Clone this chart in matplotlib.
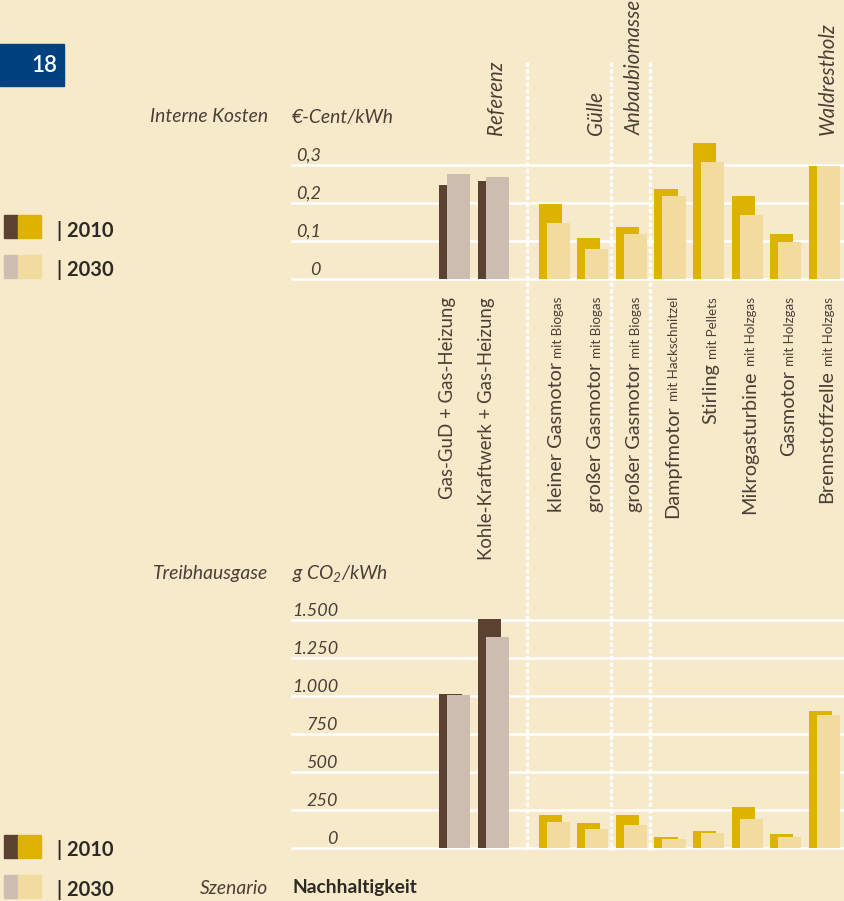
import numpy as np
import matplotlib
matplotlib.use('Agg')
import matplotlib.pyplot as plt
from matplotlib.patches import Rectangle
from matplotlib.lines import Line2D
from matplotlib.transforms import blended_transform_factory

# --- data ---
main_labels = ['Gas-GuD + Gas-Heizung', 'Kohle-Kraftwerk + Gas-Heizung',
               'kleiner Gasmotor', 'großer Gasmotor', 'großer Gasmotor',
               'Dampfmotor', 'Stirling', 'Mikrogasturbine', 'Gasmotor',
               'Brennstoffzelle']
small_labels = ['', '', 'mit Biogas', 'mit Biogas', 'mit Biogas',
                'mit Hackschnitzel', 'mit Pellets', 'mit Holzgas',
                'mit Holzgas', 'mit Holzgas']
groups = ['Referenz', 'Gülle', 'Anbaubiomasse', 'Waldrestholz']
group_last = [1, 3, 4, 9]          # group label sits over last bar of group
is_ref = [True, True, False, False, False, False, False, False, False, False]

kosten_2010 = [0.248, 0.259, 0.198, 0.109, 0.138, 0.238, 0.359, 0.219, 0.119, 0.298]
kosten_2030 = [0.277, 0.269, 0.148, 0.080, 0.119, 0.219, 0.309, 0.169, 0.098, 0.298]
co2_2010 = [1013, 1507, 217, 164, 217, 72, 112, 270, 92, 901]
co2_2030 = [1007, 1388, 171, 125, 151, 59, 99, 191, 72, 875]

kosten_ticks = [0, 0.1, 0.2, 0.3]
kosten_ticklabels = ['0', '0,1', '0,2', '0,3']
co2_ticks = [0, 250, 500, 750, 1000, 1250, 1500]
co2_ticklabels = ['0', '250', '500', '750', '1.000', '1.250', '1.500']

# --- style ---
BG = '#F7EACB'
DARK = '#5B4230'
TAUPE = '#CCBDB0'
GOLD = '#DEB300'
LGOLD = '#F1DB9F'
TXT = '#4A3F36'
BLUE = '#00427F'
plt.rcParams['font.family'] = ['Lato', 'DejaVu Sans']
plt.rcParams['mathtext.fontset'] = 'custom'
plt.rcParams['mathtext.rm'] = 'Lato:italic'
plt.rcParams['mathtext.it'] = 'Lato:italic'

W, H = 844, 901
fig = plt.figure(figsize=(W / 100, H / 100), dpi=100, facecolor=BG)

def fx(x):
    return x / W

def fy(y):
    return 1 - y / H

pos = np.array([0, 1] + list(2.58 + np.arange(8)))
bw = 0.6
off = 0.21
seps = [2.28, 4.46, 5.47]
slot = 38.6
xlim = ((292 - 439) / slot, (844 - 439) / slot)

c10 = [DARK if r else GOLD for r in is_ref]
c30 = [TAUPE if r else LGOLD for r in is_ref]


def panel(top, bottom, px_per_unit, v10, v30, ticks, ticklabels, lab_x):
    ax = fig.add_axes([fx(292), fy(bottom), fx(844 - 292), (bottom - top) / H])
    ax.set_xlim(*xlim)
    ax.set_ylim(0, (bottom - top) / px_per_unit)
    ax.axis('off')
    for t, lab in zip(ticks, ticklabels):
        ax.axhline(t, color='white', lw=1.8, zorder=1, clip_on=False)
        ax.annotate(lab, xy=((lab_x - 292) / (844 - 292), t),
                    xycoords=('axes fraction', 'data'), xytext=(0, 4),
                    textcoords='offset pixels', ha='right', va='baseline',
                    fontsize=13, style='italic', color=TXT)
    ax.bar(pos, v10, width=bw, align='edge', color=c10, zorder=2)
    ax.bar(pos + off, v30, width=bw, align='edge', color=c30, zorder=3)
    return ax


ax1 = panel(130, 279, 380, kosten_2010, kosten_2030, kosten_ticks, kosten_ticklabels, 321)
ax2 = panel(605, 848, 38 / 250, co2_2010, co2_2030, co2_ticks, co2_ticklabels, 338)

# dotted separators
tr = blended_transform_factory(ax1.transData, fig.transFigure)
for s in seps:
    fig.add_artist(Line2D([s, s], [fy(62), fy(850)], transform=tr, color='white',
                          lw=2.4, linestyle=(0, (1.3, 0.7)), zorder=0))

# category labels (rotated, reading upwards, end at top)
renderer = fig.canvas.get_renderer()
for i in range(len(pos)):
    base = pos[i] + (off + bw) / 2 + (-0.03 if is_ref[i] else 0.21)
    ytop = 297
    if small_labels[i]:
        t = fig.text(base, fy(ytop), small_labels[i], transform=tr, rotation=90,
                     rotation_mode='anchor', ha='right', va='baseline',
                     fontsize=9.6, color=TXT)
        ext = t.get_window_extent(renderer)
        ytop = ytop + ext.height + 4
    fig.text(base, fy(ytop), main_labels[i], transform=tr, rotation=90,
             rotation_mode='anchor', ha='right', va='baseline',
             fontsize=13.4 if is_ref[i] else 14.3, color=TXT)

# group labels
for g, i in zip(groups, group_last):
    base = pos[i] + (off + bw) / 2 + 0.23
    fig.text(base, fy(135), g, transform=tr, rotation=90, rotation_mode='anchor',
             ha='left', va='baseline', fontsize=14.8, style='italic', color=TXT)

# page number box
fig.patches.append(Rectangle((0, fy(86)), fx(64), (86 - 44) / H,
                             transform=fig.transFigure, color=BLUE))
fig.text(fx(57), fy(65), '18', ha='right', va='center', fontsize=16,
         color='white', fontweight='semibold')

# titles
fs = 13.9
fig.text(fx(268), fy(117), 'Interne Kosten', ha='right', va='center',
         fontsize=fs, style='italic', color=TXT)
fig.text(fx(292), fy(117), '€-Cent/kWh', ha='left', va='center',
         fontsize=fs, style='italic', color=TXT)
fig.text(fx(268), fy(573), 'Treibhausgase', ha='right', va='center',
         fontsize=fs, style='italic', color=TXT)
fig.text(fx(292), fy(573), r'g CO$_2$/kWh', ha='left', va='center',
         fontsize=fs, style='italic', color=TXT)
fig.text(fx(268), fy(888), 'Szenario', ha='right', va='center',
         fontsize=fs, style='italic', color=TXT)
fig.text(fx(292), fy(888), 'Nachhaltigkeit', ha='left', va='center',
         fontsize=fs, fontweight='bold', color='#2E2924')


# legends
def legend_key(y0, y1, ca, cb, label):
    fig.patches.append(Rectangle((fx(4), fy(y1)), fx(14), (y1 - y0) / H,
                                 transform=fig.transFigure, color=ca))
    fig.patches.append(Rectangle((fx(18), fy(y1)), fx(23), (y1 - y0) / H,
                                 transform=fig.transFigure, color=cb))
    fig.text(fx(57), fy((y0 + y1) / 2 + 4), label, ha='left', va='center',
             fontsize=14.5, fontweight='bold', color='#2E2924')


legend_key(215, 238, DARK, GOLD, '| 2010')
legend_key(255, 278, TAUPE, LGOLD, '| 2030')
legend_key(835, 858, DARK, GOLD, '| 2010')
legend_key(875, 898, TAUPE, LGOLD, '| 2030')

fig.savefig('out.png', dpi=100, facecolor=BG)
